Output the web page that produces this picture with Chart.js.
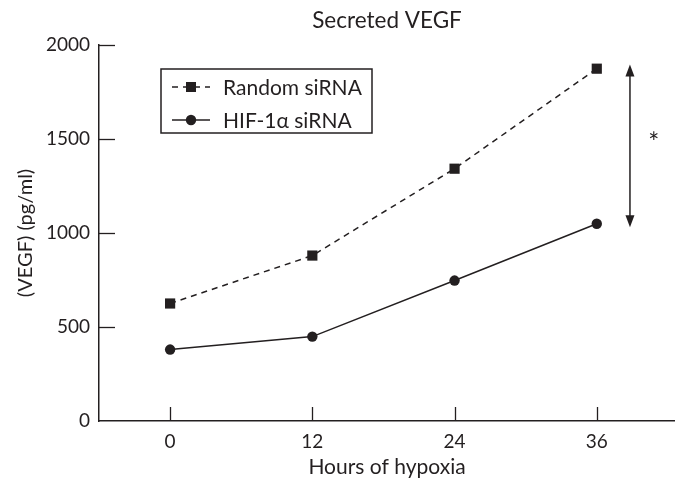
<!DOCTYPE html>
<html>
<head>
<meta charset="utf-8">
<script src="https://cdn.jsdelivr.net/npm/chart.js@4"></script>
<style>
  html, body { margin: 0; padding: 0; background: #ffffff; }
  canvas { display: block; }
</style>
</head>
<body>
<canvas id="c" width="675" height="478"></canvas>
<script>
// ---- Data ----
const hours = [0, 12, 24, 36];
const randomSiRNA = [625, 880, 1342, 1874];
const hifSiRNA = [380, 449, 747, 1049];
const yTicks = [0, 500, 1000, 1500, 2000];
const seriesLabels = ['Random siRNA', 'HIF-1\u03b1 siRNA'];
const arrowX = 38.8;
const arrowRange = [1030, 1896];
const asteriskPos = [40.8, 1500];

const INK = '#231f20';
const FONT = 'Lato, "Liberation Sans", sans-serif';

const toPoints = (xs, ys) => xs.map((x, i) => ({ x: x, y: ys[i] }));

const innerTicks = {
  id: 'innerTicks',
  afterDraw(chart) {
    const { ctx, chartArea } = chart;
    const xs = chart.scales.x, ys = chart.scales.y;
    ctx.save();
    ctx.strokeStyle = INK;
    ctx.lineWidth = 1.3;
    yTicks.forEach(v => {
      if (v === 0) return;
      const py = Math.round(ys.getPixelForValue(v)) + 0.5;
      ctx.beginPath();
      ctx.moveTo(chartArea.left, py);
      ctx.lineTo(chartArea.left + 16, py);
      ctx.stroke();
    });
    hours.forEach(v => {
      const px = Math.round(xs.getPixelForValue(v)) + 0.5;
      ctx.beginPath();
      ctx.moveTo(px, chartArea.bottom);
      ctx.lineTo(px, chartArea.bottom - 14);
      ctx.stroke();
    });
    ctx.restore();
  }
};

const annotations = {
  id: 'annotations',
  afterDraw(chart) {
    const { ctx } = chart;
    const xs = chart.scales.x, ys = chart.scales.y;
    const px = xs.getPixelForValue(arrowX);
    const top = ys.getPixelForValue(arrowRange[1]);
    const bot = ys.getPixelForValue(arrowRange[0]);
    ctx.save();
    ctx.strokeStyle = INK;
    ctx.fillStyle = INK;
    ctx.lineWidth = 1.5;
    ctx.beginPath();
    ctx.moveTo(px, top + 8);
    ctx.lineTo(px, bot - 8);
    ctx.stroke();
    const head = (yTip, dir) => {
      ctx.beginPath();
      ctx.moveTo(px, yTip);
      ctx.lineTo(px - 4.5, yTip + dir * 12);
      ctx.lineTo(px + 4.5, yTip + dir * 12);
      ctx.closePath();
      ctx.fill();
    };
    head(top, 1);
    head(bot, -1);
    ctx.font = '26px ' + FONT;
    ctx.textAlign = 'center';
    ctx.textBaseline = 'middle';
    ctx.fillText('*', xs.getPixelForValue(asteriskPos[0]), ys.getPixelForValue(asteriskPos[1]) + 5);
    ctx.restore();
  }
};

const boxLegend = {
  id: 'boxLegend',
  afterDraw(chart) {
    const { ctx } = chart;
    const L = 161, T = 69, R = 372, B = 133;
    ctx.save();
    ctx.strokeStyle = INK;
    ctx.lineWidth = 1.5;
    ctx.strokeRect(L, T, R - L, B - T);
    const rows = [T + 18, T + 51];
    chart.data.datasets.forEach((ds, i) => {
      const y = rows[i];
      ctx.strokeStyle = INK;
      ctx.fillStyle = INK;
      ctx.lineWidth = 1.5;
      ctx.setLineDash(i === 0 ? [6, 5] : []);
      ctx.beginPath();
      ctx.moveTo(172, y);
      ctx.lineTo(210, y);
      ctx.stroke();
      ctx.setLineDash([]);
      if (i === 0) {
        ctx.fillRect(186, y - 5, 10, 10);
      } else {
        ctx.beginPath();
        ctx.arc(191, y, 5.2, 0, Math.PI * 2);
        ctx.fill();
      }
      ctx.font = '21px ' + FONT;
      ctx.textAlign = 'left';
      ctx.textBaseline = 'middle';
      ctx.fillText(ds.label, 223, y + 1);
    });
    ctx.restore();
  }
};

new Chart(document.getElementById('c'), {
  type: 'scatter',
  data: {
    datasets: [
      {
        label: seriesLabels[0],
        data: toPoints(hours, randomSiRNA),
        showLine: true,
        borderColor: INK,
        backgroundColor: INK,
        borderWidth: 1.5,
        borderDash: [6, 5],
        pointStyle: 'rect',
        pointRadius: 7.2,
        pointBorderWidth: 0
      },
      {
        label: seriesLabels[1],
        data: toPoints(hours, hifSiRNA),
        showLine: true,
        borderColor: INK,
        backgroundColor: INK,
        borderWidth: 1.5,
        pointStyle: 'circle',
        pointRadius: 5.2,
        pointBorderWidth: 0
      }
    ]
  },
  options: {
    responsive: false,
    animation: false,
    layout: { autoPadding: false, padding: { left: 0, right: 0, top: 0, bottom: 0 } },
    plugins: {
      legend: { display: false },
      tooltip: { enabled: false },
      title: {
        display: true,
        text: 'Secreted VEGF',
        fullSize: false,
        color: INK,
        font: { family: FONT, size: 22.5, weight: 'normal', lineHeight: 1.2 },
        padding: { top: 7, bottom: 11 }
      }
    },
    scales: {
      x: {
        type: 'linear',
        min: -6,
        max: 42.6,
        afterBuildTicks: s => { s.ticks = hours.map(v => ({ value: v })); },
        afterFit: s => { s.height = 57; s.paddingLeft = 0; s.paddingRight = 0; },
        grid: { display: true, drawOnChartArea: false, drawTicks: false },
        border: { display: true, color: INK, width: 1.5 },
        ticks: { color: INK, font: { family: FONT, size: 19 }, padding: 9, maxRotation: 0,
                 callback: v => String(v) },
        title: {
          display: true,
          text: 'Hours of hypoxia',
          color: INK,
          font: { family: FONT, size: 21, lineHeight: 1 },
          padding: { top: 0, bottom: 0 }
        }
      },
      y: {
        type: 'linear',
        min: 0,
        max: 2000,
        afterBuildTicks: s => { s.ticks = yTicks.map(v => ({ value: v })); },
        afterFit: s => { s.width = 99; },
        grid: { display: true, drawOnChartArea: false, drawTicks: false },
        border: { display: true, color: INK, width: 1.5 },
        ticks: { color: INK, font: { family: FONT, size: 19 }, padding: 9,
                 callback: v => String(v) },
        title: {
          display: true,
          text: '(VEGF) (pg/ml)',
          color: INK,
          font: { family: FONT, size: 20, lineHeight: 1 },
          padding: { top: 16, bottom: 0 }
        }
      }
    }
  },
  plugins: [innerTicks, annotations, boxLegend]
});
</script>
</body>
</html>
